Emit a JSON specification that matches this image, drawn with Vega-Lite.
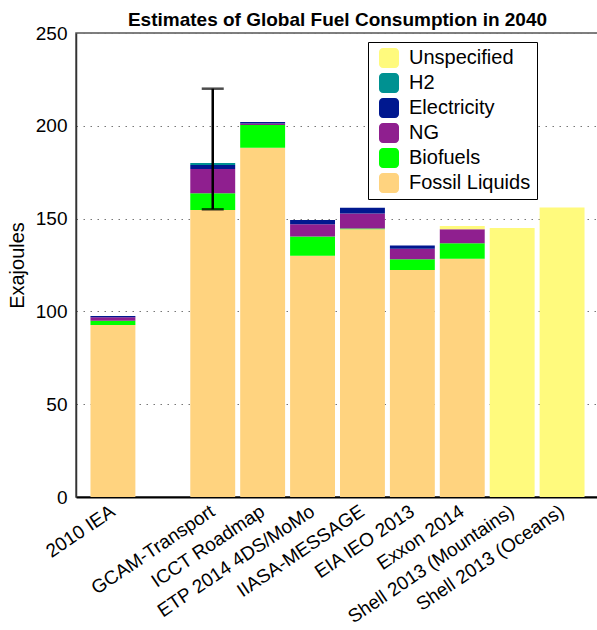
{
  "$schema": "https://vega.github.io/schema/vega-lite/v6.json",
  "autosize": "none",
  "padding": {"left": 76, "top": 33, "right": 0, "bottom": 133},
  "width": 523,
  "height": 464,
  "background": "white",
  "title": {"text": "Estimates of Global Fuel Consumption in 2040", "fontSize": 19, "fontWeight": "bold", "font": "Liberation Sans", "color": "black", "anchor": "middle", "offset": -6},
  "config": {
    "font": "Liberation Sans",
    "view": {"stroke": "#555", "strokeWidth": 1.5},
    "axis": {"labelFont": "Liberation Sans", "titleFont": "Liberation Sans", "labelColor": "black", "titleColor": "black"}
  },
  "layer": [
    {
      "data": {"values": [
        {"model": "2010 IEA", "fuel": "Fossil Liquids", "value": 92.7},
        {"model": "2010 IEA", "fuel": "Biofuels", "value": 2.3},
        {"model": "2010 IEA", "fuel": "NG", "value": 1.8},
        {"model": "2010 IEA", "fuel": "Electricity", "value": 0.7},
        {"model": "GCAM-Transport", "fuel": "Fossil Liquids", "value": 154.6},
        {"model": "GCAM-Transport", "fuel": "Biofuels", "value": 9.0},
        {"model": "GCAM-Transport", "fuel": "NG", "value": 13.1},
        {"model": "GCAM-Transport", "fuel": "Electricity", "value": 2.2},
        {"model": "GCAM-Transport", "fuel": "H2", "value": 1.1},
        {"model": "ICCT Roadmap", "fuel": "Fossil Liquids", "value": 188.2},
        {"model": "ICCT Roadmap", "fuel": "Biofuels", "value": 12.2},
        {"model": "ICCT Roadmap", "fuel": "NG", "value": 0.9},
        {"model": "ICCT Roadmap", "fuel": "Electricity", "value": 0.7},
        {"model": "ETP 2014 4DS/MoMo", "fuel": "Fossil Liquids", "value": 130.0},
        {"model": "ETP 2014 4DS/MoMo", "fuel": "Biofuels", "value": 10.4},
        {"model": "ETP 2014 4DS/MoMo", "fuel": "NG", "value": 6.6},
        {"model": "ETP 2014 4DS/MoMo", "fuel": "Electricity", "value": 2.2},
        {"model": "IIASA-MESSAGE", "fuel": "Fossil Liquids", "value": 144.2},
        {"model": "IIASA-MESSAGE", "fuel": "Biofuels", "value": 0.5},
        {"model": "IIASA-MESSAGE", "fuel": "NG", "value": 8.1},
        {"model": "IIASA-MESSAGE", "fuel": "Electricity", "value": 3.0},
        {"model": "EIA IEO 2013", "fuel": "Fossil Liquids", "value": 122.3},
        {"model": "EIA IEO 2013", "fuel": "Biofuels", "value": 5.8},
        {"model": "EIA IEO 2013", "fuel": "NG", "value": 5.6},
        {"model": "EIA IEO 2013", "fuel": "Electricity", "value": 1.8},
        {"model": "Exxon 2014", "fuel": "Fossil Liquids", "value": 128.4},
        {"model": "Exxon 2014", "fuel": "Biofuels", "value": 8.3},
        {"model": "Exxon 2014", "fuel": "NG", "value": 7.5},
        {"model": "Exxon 2014", "fuel": "Unspecified", "value": 1.8},
        {"model": "Shell 2013 (Mountains)", "fuel": "Unspecified", "value": 145.0},
        {"model": "Shell 2013 (Oceans)", "fuel": "Unspecified", "value": 156.0}
      ]},
      "transform": [
        {"calculate": "indexof(['Fossil Liquids', 'Biofuels', 'NG', 'Electricity', 'H2', 'Unspecified'], datum.fuel)", "as": "stack_rank"}
      ],
      "mark": {"type": "bar"},
      "encoding": {
        "x": {"field": "model", "type": "nominal",
          "scale": {"domain": ["2010 IEA", " ", "GCAM-Transport", "ICCT Roadmap", "ETP 2014 4DS/MoMo", "IIASA-MESSAGE", "EIA IEO 2013", "Exxon 2014", "Shell 2013 (Mountains)", "Shell 2013 (Oceans)"], "paddingInner": 0.1, "paddingOuter": 0.29},
          "axis": {"title": null, "labelAngle": -34, "labelAlign": "right", "labelBaseline": "middle", "labelFontSize": 19, "labelPadding": 12, "ticks": false, "domainColor": "black", "domainWidth": 2, "labelLimit": 400}},
        "y": {"field": "value", "type": "quantitative", "stack": "zero",
          "scale": {"domain": [0, 250], "nice": false},
          "axis": {"title": "Exajoules", "titleFontSize": 20, "titleFontWeight": "normal", "titlePadding": 8, "values": [0, 50, 100, 150, 200, 250], "labelFontSize": 19, "labelPadding": 9, "ticks": false, "domainColor": "#333", "domainWidth": 1.5, "grid": true, "gridColor": "#777", "gridDash": [1.5, 5.5], "gridWidth": 1}},
        "order": {"field": "stack_rank", "type": "quantitative", "sort": "ascending"},
        "color": {"field": "fuel", "type": "nominal",
          "sort": ["Unspecified", "H2", "Electricity", "NG", "Biofuels", "Fossil Liquids"],
          "scale": {"domain": ["Unspecified", "H2", "Electricity", "NG", "Biofuels", "Fossil Liquids"], "range": ["#FFFA7D", "#009191", "#00188F", "#8F1F8F", "#00FF00", "#FFD37F"]},
          "legend": {"title": null, "orient": "none", "legendX": 292, "legendY": 9, "fillColor": "white", "strokeColor": "black", "padding": 6, "symbolOffset": 5, "labelOffset": 10, "labelFontSize": 20, "labelFont": "Liberation Sans", "labelColor": "black", "symbolSize": 400, "symbolStrokeWidth": 0, "symbolType": "M-1,-0.6A0.4,0.4,0,0,1,-0.6,-1L0.6,-1A0.4,0.4,0,0,1,1,-0.6L1,0.6A0.4,0.4,0,0,1,0.6,1L-0.6,1A0.4,0.4,0,0,1,-1,0.6Z", "rowPadding": 5, "symbolOpacity": 1}}
      }
    },
    {
      "data": {"values": [{"model": "GCAM-Transport", "low": 155, "high": 220}]},
      "mark": {"type": "rule", "color": "black", "strokeWidth": 2.5},
      "encoding": {
        "x": {"field": "model", "type": "nominal"},
        "y": {"field": "low", "type": "quantitative"},
        "y2": {"field": "high"}
      }
    },
    {
      "data": {"values": [{"model": "GCAM-Transport", "low": 155, "high": 220}]},
      "mark": {"type": "tick", "color": "black", "size": 22, "thickness": 2.5, "orient": "horizontal"},
      "encoding": {
        "x": {"field": "model", "type": "nominal"},
        "y": {"field": "low", "type": "quantitative"}
      }
    },
    {
      "data": {"values": [{"model": "GCAM-Transport", "low": 155, "high": 220}]},
      "mark": {"type": "tick", "color": "black", "size": 22, "thickness": 2.5, "orient": "horizontal"},
      "encoding": {
        "x": {"field": "model", "type": "nominal"},
        "y": {"field": "high", "type": "quantitative"}
      }
    }
  ]
}
